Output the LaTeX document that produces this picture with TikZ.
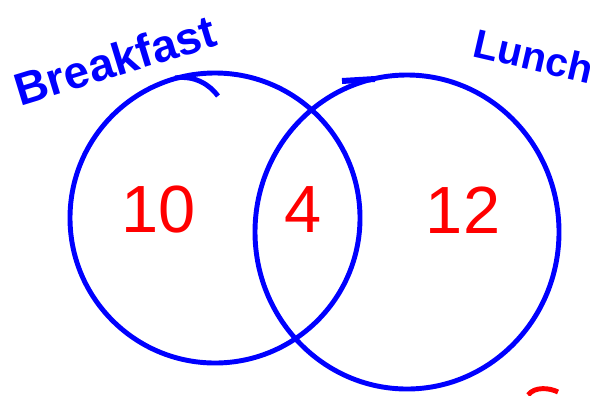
\documentclass[tikz,border=0pt]{standalone}
\usepackage{fontspec}
\setmainfont{Liberation Sans}
\usepackage{tikz}

\begin{document}
\begin{tikzpicture}[line width=2.8pt]

\useasboundingbox (0,0) rectangle (12.02,7.9);

% the two sets
\draw[blue] (4.3,3.54) circle (2.9);
\draw[blue] (3.5,6.34) .. controls (3.9,6.4) and (4.2,6.2) .. (4.36,5.98);
\draw[blue] (8.14,3.26) ellipse (3.04 and 3.14);
\draw[blue,line width=3.4pt] (6.84,6.28) -- (7.5,6.32);

% set names
\node[blue,rotate=17,inner sep=0pt] (breakfast) at (2.3,6.7) {\fontsize{26}{26}\selectfont\bfseries Breakfast};
\node[blue,rotate=-13,inner sep=0pt] (lunch) at (10.68,6.78) {\fontsize{23}{23}\selectfont\bfseries Lunch};

% counts
\node[red] (onlyb) at (3.18,3.7) {\fontsize{38}{38}\selectfont 10};
\node[red] (both) at (6.06,3.7) {\fontsize{38}{38}\selectfont 4};
\node[red] (onlyl) at (9.26,3.7) {\fontsize{38}{38}\selectfont 12};

\draw[red] (10.56,0) .. controls (10.7,0.18) and (11.0,0.14) .. (11.16,0.06);

\end{tikzpicture}
\end{document}
